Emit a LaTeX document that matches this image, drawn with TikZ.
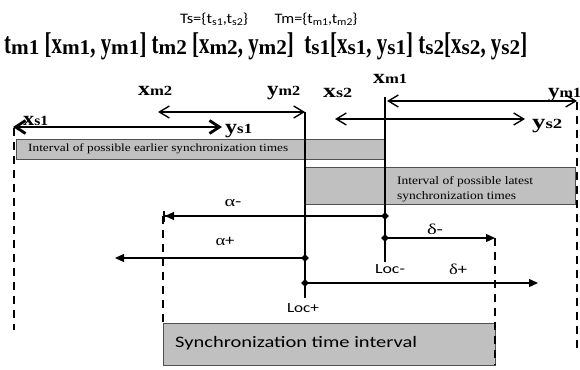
\documentclass[tikz,border=0pt]{standalone}
\usepackage{fontspec}
\usepackage{graphicx}
\setmainfont{Liberation Serif}
\newfontfamily\calfont{Carlito}
\usetikzlibrary{arrows.meta,shapes.geometric}

\definecolor{bandfill}{RGB}{192,192,192}
\definecolor{bandline}{RGB}{80,80,80}

% stretch a label horizontally to a given width
\newcommand\fitw[2]{\resizebox{#1}{\height}{#2}}
% subscripts of the large headline
\newcommand\bsub[1]{\raisebox{-1.5pt}{\scalebox{1.45}[1]{\fontsize{21}{21}\selectfont #1}}}
% bold bound label: letter plus subscript
\newcommand\lbl[2]{{\fontsize{20}{20}\selectfont\bfseries #1\fontsize{14}{14}\selectfont #2}}
% sans subscripts of the set line
\newcommand\csub[1]{\raisebox{-2pt}{\fontsize{10.5}{10.5}\selectfont #1}}

\begin{document}
\begin{tikzpicture}[x=1pt,y=-1pt,
  dbl/.style={line width=1.4pt,
    {Straight Barb[length=10pt,width=12pt]}-{Straight Barb[length=10pt,width=12pt]}},
  thickdbl/.style={line width=2.8pt,
    {Straight Barb[length=10pt,width=13pt]}-{Straight Barb[length=10pt,width=13pt]}},
  guide/.style={line width=1.6pt, dash pattern=on 8pt off 6pt},
  post/.style={line width=2pt},
  ray/.style={line width=1.3pt, -{Triangle[length=9pt,width=8pt]}},
  knot/.style={diamond, fill=black, inner sep=0pt, minimum size=8pt},
  band/.style={draw=bandline, fill=bandfill, line width=0.8pt},
  lab/.style={inner sep=0pt, anchor=base west},
  ctr/.style={inner sep=0pt, anchor=center}
]
\useasboundingbox (0,0) rectangle (580,369);

% ---- set definitions and headline ----
\node[ctr] (setS) at (214,19) {\fitw{68pt}{\calfont\fontsize{14.5}{14.5}\selectfont Ts=\{t\csub{s1},t\csub{s2}\}}};
\node[ctr] (setM) at (316,19) {\fitw{83pt}{\calfont\fontsize{14.5}{14.5}\selectfont Tm=\{t\csub{m1},t\csub{m2}\}}};
\node[lab] (head) at (4,53) {\fitw{523pt}{\fontsize{30}{30}\selectfont\bfseries
  t\bsub{m1} [x\bsub{m1}, y\bsub{m1}] t\bsub{m2} [x\bsub{m2}, y\bsub{m2}]\ \ t\bsub{s1}[x\bsub{s1}, y\bsub{s1}] t\bsub{s2}[x\bsub{s2}, y\bsub{s2}]}};

% ---- interval bands ----
\node[band, inner sep=0pt, minimum width=368pt, minimum height=20pt, anchor=north west] (early) at (16,139) {};
\node[lab, anchor=west] (earlytxt) at (28,149) {\fitw{260pt}{\fontsize{11}{11}\selectfont Interval of possible earlier synchronization times}};
\node[band, inner sep=0pt, minimum width=270pt, minimum height=37pt, anchor=north west] (late) at (305,167) {};
\node[inner sep=0pt, anchor=west, align=left, font=\fontsize{11.5}{15}\selectfont] (latetxt) at (397,189.5)
  {\fitw{136pt}{Interval of possible latest}\\\fitw{119pt}{synchronization times}};
\node[band, inner sep=0pt, minimum width=332pt, minimum height=42pt, anchor=north west] (sync) at (163,323) {};
\node[inner sep=0pt, anchor=west] (synctxt) at (175,343) {\fitw{242pt}{\calfont\fontsize{16}{16}\selectfont Synchronization time interval}};

% ---- end points of the bound arrows ----
\coordinate (xsA) at (13,127);   \coordinate (ysA) at (222,127);
\coordinate (xmB) at (158,112);  \coordinate (ymB) at (305,112);
\coordinate (xmA) at (387,101);  \coordinate (ymA) at (577,101);
\coordinate (xsB) at (335,119);  \coordinate (ysB) at (525,119);

% ---- guide lines ----
\coordinate (gLtop) at (14,128);  \coordinate (gLbot) at (14,330);
\coordinate (gRtop) at (577,102); \coordinate (gRbot) at (577,352);
\coordinate (gAtop) at (163,216); \coordinate (gAbot) at (163,323);
\coordinate (gDtop) at (495,238); \coordinate (gDbot) at (495,365);
\draw[guide] (gLtop) -- (gLbot);
\draw[guide] (gRtop) -- (gRbot);
\draw[guide] (gAtop) -- (gAbot);
\draw[guide] (gDtop) -- (gDbot);

% ---- bound arrows ----
\draw[thickdbl] (xsA) -- (ysA);
\draw[dbl] (xmB) -- (ymB);
\draw[dbl] (xmA) -- (ymA);
\draw[dbl] (xsB) -- (ysB);

\node[lab] (lxs1) at (23,125)  {\fitw{25pt}{\lbl{x}{s1}}};
\node[lab] (lys1) at (225,133) {\fitw{27pt}{\lbl{y}{s1}}};
\node[lab] (lxm2) at (138,95)  {\fitw{34pt}{\lbl{x}{m2}}};
\node[lab] (lym2) at (267,95)  {\fitw{33pt}{\lbl{y}{m2}}};
\node[lab] (lxm1) at (373,83)  {\fitw{34pt}{\lbl{x}{m1}}};
\node[lab] (lym1) at (548,97)  {\fitw{33pt}{\lbl{y}{m1}}};
\node[lab] (lxs2) at (323,97)  {\fitw{29pt}{\lbl{x}{s2}}};
\node[lab] (lys2) at (532,128) {\fitw{30pt}{\lbl{y}{s2}}};

% ---- location posts ----
\coordinate (pMtop) at (385,97);  \coordinate (pMbot) at (385,262);
\coordinate (pPbot) at (305,298);
\draw[post] (pMtop) -- (pMbot);
\draw[post] (ymB) -- (pPbot);
\node[ctr] (locm) at (390,269) {\fitw{30pt}{\calfont\fontsize{14}{14}\selectfont Loc-}};
\node[ctr] (locp) at (303,308) {\fitw{32pt}{\calfont\fontsize{14}{14}\selectfont Loc+}};

% ---- alpha / delta offsets ----
\node[knot] (kA) at (385,216) {};
\node[knot] (kB) at (305,258) {};
\node[knot] (kC) at (385,238) {};
\node[knot] (kD) at (305,283) {};
\coordinate (aPend) at (115,258);
\coordinate (dPend) at (538,283);
\draw[line width=1.3pt, -{Triangle[length=9pt,width=8pt]Bar[width=11pt,line width=2pt]}] (kA.center) -- (gAtop);
\draw[ray] (kB.center) -- (aPend);
\draw[ray] (kC.center) -- (gDtop);
\draw[ray] (kD.center) -- (dPend);

\node[ctr] (am) at (233,203) {\fitw{17pt}{\fontsize{15}{15}\selectfont α\calfont -}};
\node[ctr] (ap) at (225,241) {\fitw{19pt}{\fontsize{15}{15}\selectfont α\calfont +}};
\node[ctr] (dm) at (435,229) {\fitw{16pt}{\fontsize{15}{15}\selectfont δ\calfont -}};
\node[ctr] (dp) at (458,269) {\fitw{18pt}{\fontsize{15}{15}\selectfont δ\calfont +}};
\end{tikzpicture}
\end{document}
